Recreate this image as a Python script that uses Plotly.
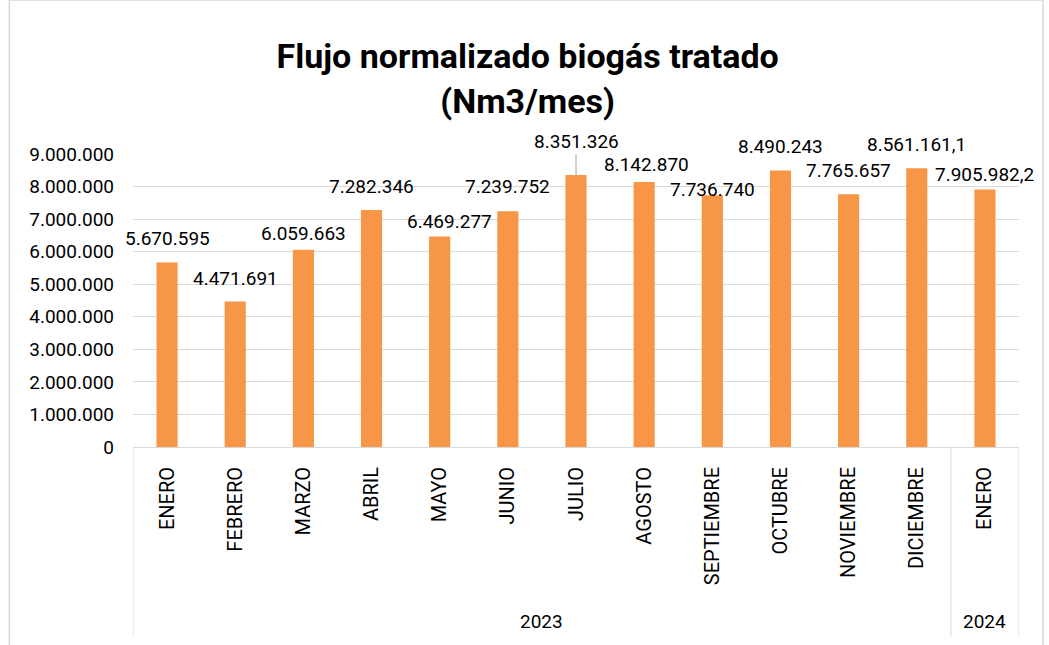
import numpy as np
import plotly.graph_objects as go

# Monthly normalised flow of treated biogas (Nm3/month)
months = ["ENERO", "FEBRERO", "MARZO", "ABRIL", "MAYO", "JUNIO", "JULIO",
          "AGOSTO", "SEPTIEMBRE", "OCTUBRE", "NOVIEMBRE", "DICIEMBRE", "ENERO"]
years = ["2023"] * 12 + ["2024"]
flow = [5670595, 4471691, 6059663, 7282346, 6469277, 7239752, 8351326,
        8142870, 7736740, 8490243, 7765657, 8561161.1, 7905982.2]
y_ticks = list(range(0, 9000001, 1000000))

# label placement tweaks (pixels): horizontal shift, height above bar top
label_dx = [0, 0, 0, 0, 10, 0, 0, 2, 0, 0, 0, 0, 0]
label_dy = [24, 23, 16, 23, 15, 25, 34, 17, 6, 24, 24, 24, 15]

BAR = "#F79646"
GRID = "#D9D9D9"
TXT = "#000000"
FONT = "Roboto, 'Liberation Sans', sans-serif"


def fmt(v):
    """Spanish number style: '.' for thousands, ',' for decimals."""
    if float(v).is_integer():
        s = f"{int(v):,}"
        return s.replace(",", ".")
    s = f"{v:,.1f}"
    return s.replace(",", "X").replace(".", ",").replace("X", ".")


x = np.arange(len(months))

fig = go.Figure()
fig.add_trace(go.Bar(
    x=x, y=flow, marker=dict(color=BAR, line=dict(width=0)),
    width=0.31, hoverinfo="skip",
))

# value labels above the bars
for i, v in enumerate(flow):
    if months[i] == "JULIO":
        fig.add_annotation(
            x=x[i], y=v, text=fmt(v), showarrow=True, arrowhead=0,
            arrowcolor="#A6A6A6", arrowwidth=1, ax=label_dx[i], ay=-label_dy[i],
            standoff=0, font=dict(family=FONT, size=19, color=TXT),
        )
    else:
        fig.add_annotation(
            x=x[i], y=v, text=fmt(v), showarrow=False, xshift=label_dx[i],
            yshift=label_dy[i], yanchor="middle",
            font=dict(family=FONT, size=19, color=TXT),
        )

# year group labels under the month labels
groups = {}
for i, yr in enumerate(years):
    groups.setdefault(yr, []).append(i)
for yr, idx in groups.items():
    fig.add_annotation(
        x=float(np.mean(idx)), y=-0.594, xref="x", yref="paper", text=yr,
        showarrow=False, yanchor="middle",
        font=dict(family=FONT, size=19, color=TXT),
    )

# category-axis separators (left edge, year boundary, right edge)
bounds = [-0.5] + [groups[yr][-1] + 0.5 for yr in groups]
for b in bounds:
    fig.add_shape(type="line", xref="x", yref="paper", x0=b, x1=b,
                  y0=0, y1=-0.648, line=dict(color=GRID, width=1))

# chart-area border
fig.add_shape(type="rect", xref="paper", yref="paper",
              x0=-0.1395, x1=1.0271, y0=-0.70, y1=1.5256,
              line=dict(color=GRID, width=1.5), fillcolor="rgba(0,0,0,0)",
              layer="below")

fig.update_layout(
    width=1049, height=645,
    margin=dict(l=133, r=30, t=154, b=198, autoexpand=False),
    paper_bgcolor="white", plot_bgcolor="white",
    separators=",.",
    showlegend=False,
    title=dict(
        text="<b>Flujo normalizado biogás tratado</b><br><b>(Nm3/mes)</b>",
        x=0.503, xref="container", xanchor="center",
        y=0.894, yref="container", yanchor="middle",
        font=dict(family=FONT, size=34, color=TXT),
    ),
    xaxis=dict(
        range=[-0.5, len(months) - 0.5],
        tickvals=x, ticktext=months, tickangle=-90,
        tickfont=dict(family=FONT, size=20, color=TXT),
        showgrid=False, zeroline=False, showline=True, linecolor=GRID,
        linewidth=1, ticks="", ticklabelstandoff=11, automargin=False,
        fixedrange=True,
    ),
    yaxis=dict(
        range=[0, 9000000], tickvals=y_ticks, tickformat=",d",
        tickfont=dict(family=FONT, size=19, color=TXT),
        showgrid=True, gridcolor=GRID, gridwidth=1, zeroline=False,
        showline=False, ticks="", ticklabelstandoff=18, automargin=False,
        fixedrange=True,
    ),
)

fig.write_html("out.html")
